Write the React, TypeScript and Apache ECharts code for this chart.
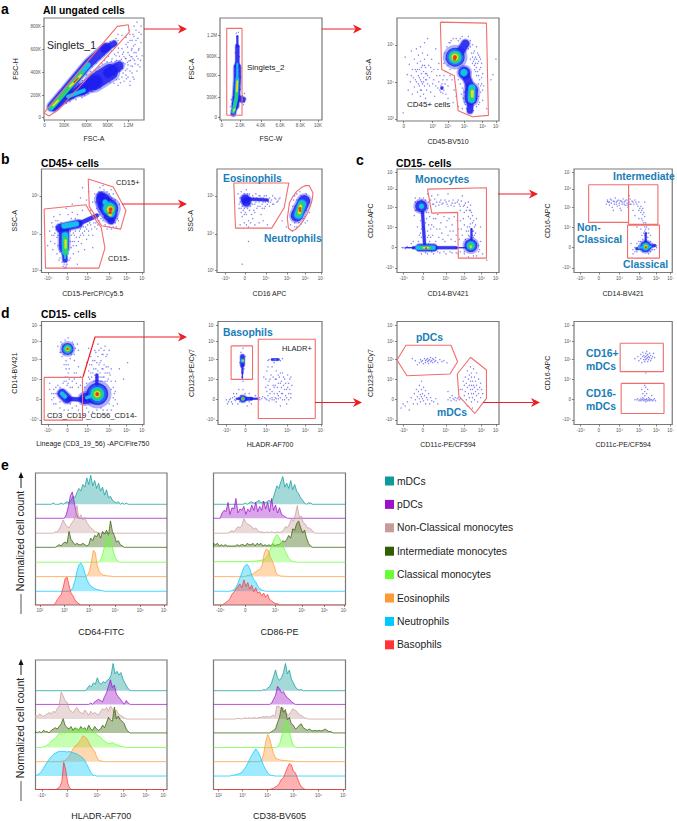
import React, { useEffect, useRef } from "react";
import * as echarts from "echarts";

const FONT = '"Liberation Sans", Arial, sans-serif';
const RED = "#ee1c24";
const GATE = "#f26d6d";
const BLUE_TEXT = "#1a7db8";
const LAYER_COLORS = ["#1b1bf0", "#14bfe8", "#28d468", "#e6e31f", "#ea3a12"];
const LAYER_OPACITY = [0.82, 1, 1, 1, 1];

// ---------- tick labels (positions are on each panel's 0-100 display scale)
const BI_LABELS = ["-10⁴", "0", "10⁴", "10⁵", "10⁶", "10⁷"];
const DEC_LABELS = ["10²", "10³", "10⁴", "10⁵", "10⁶", "10⁷"];
const SSC_LABELS = ["10³", "10⁴", "10⁵"];
const A1X_LABELS = ["0", "300K", "600K", "900K", "1.2M"];
const A1Y_LABELS = ["0", "200K", "400K", "600K", "800K"];
const A2X_LABELS = ["0", "2.0K", "4.0K", "6.0K", "8.0K", "10K"];
const A2Y_LABELS = ["0", "300K", "600K", "900K", "1.2M"];
const A3X_LABELS = ["0", "10³", "10⁴", "10⁵", "10⁶", "10⁷"];
const A1X_POS = [0.4, 20.3, 42.7, 63.7, 84.3];
const A1Y_POS = [2.6, 24.3, 46.9, 69.5, 91.8];
const A2X_POS = [1.6, 19.7, 40, 59, 78.7, 96];
const A2Y_POS = [2.6, 22, 43.6, 62, 83.3];
const A3X_POS = [6.5, 35, 50, 66, 84, 97.4];
const SSC_POS = [2, 37.3, 74];
const B1X_POS = [6.5, 25.4, 45, 66, 83, 98.7];
const B2X_POS = [8.3, 26.5, 46.6, 67, 84, 99];
const C1X_POS = [6.5, 25.3, 48, 65.6, 82.8, 97.4];
const C2X_POS = [6.8, 25.3, 46.4, 66.5, 83.8, 98.4];
const BIY_POS = [4.4, 24.3, 43.9, 63.2, 80.8, 96.4];
const E1X_POS = [3.3, 22, 41, 60.5, 79.6, 98];
const E2X_POS = [5, 24, 47, 67, 84, 99];
const E3X_POS = [5, 24, 47, 67, 84, 97.5];
const E4X_POS = [3.8, 22, 41, 60.6, 79.5, 98.5];

// ---------- flow-cytometry events: sparse dots [x, y], density blobs [x, y, size] and dense ribbons [layer, width, points]
const A1_DOTS = [[52,48],[55,52],[58,55],[61,49],[63,57],[66,54],[68,60],[70,44],[71,57],[72,63],[73,48],[74,66],[75,40],[76,58],[77,52],[78,70],[79,46],[80,62],[80,38],[81,55],[82,74],[83,50],[84,66],[84,42],[85,58],[86,78],[86,34],[87,53],[88,70],[88,46],[89,84],[89,60],[90,40],[91,74],[91,55],[92,66],[92,88],[93,48],[94,80],[94,60],[95,70],[96,52],[97,76],[97,92],[98,63],[90,92],[85,88],[93,96],[62,40],[66,37],[70,36],[74,34],[58,36],[54,33],[48,28],[44,26],[38,22],[32,20],[26,18],[60,64],[56,60],[52,56],[48,52],[74,78],[70,72],[66,77],[72,80],[30,42],[24,35],[18,29],[82,60],[79,56],[76,48],[73,54],[84,54],[87,62],[90,66],[86,48],[78,42],[82,44],
  [60.5,58.5],[64.5,52.5],[67.5,57.5],[69.5,53.5],[72.5,58.5],[75.5,62.5],[77.5,59.5],[79.5,66.5],[81.5,60.5],[83.5,71.5],[85.5,63.5],[87.5,68.5],[89.5,72.5],[72.5,43.5],[75.5,47.5],[78.5,50.5],[81.5,48.5],[83.5,56.5],[86.5,58.5],[88.5,52.5],[90.5,58.5],[92.5,62.5],[94.5,68.5],[96.5,58.5],[78.5,64.5],[74.5,70.5],[70.5,64.5],[67.5,67.5],[64.5,62.5],[61.5,44.5],[68.5,40.5],[72.5,39.5],[76.5,36.5],[82.5,40.5],[56.5,31.5],[50.5,30.5],[44.5,29.5],[40.5,24.5],[35.5,24.5],[29.5,21.5],[22.5,16.5],[14.5,10.5],[46.5,47.5],[42.5,44.5],[38.5,38.5],[34.5,35.5],[74,84],[78,83],[82,81],[86,84],[88,78],[84,76],[92,78],[90,82],[95,86],[97,84],[88,62],[94,54],[89,42],[86,38]];
const A1_BLOBS = [[], [], [], [], []];
const A1_RIBBONS = [
  [0,9,[[8,13],[44,55],[62,71]]],[0,6,[[60,69],[70,75]]],[0,6,[[10,12],[28,25]]],[0,9,[[25,24],[40,31]]],[0,12,[[38,30],[52,38]]],[0,16,[[50,37],[66,47]]],[0,9,[[64,46],[75,53]]],
  [1,5,[[7,12],[44,54]]],[1,3.5,[[24,23],[40,29]]],[2,3.5,[[8,13],[38,46]]],[3,2,[[26,33],[37,44]]],[3,1.5,[[9,14],[14,19]]],[4,1.2,[[30,37],[34,41]]],
];
const A2_DOTS = [[12,5],[11,9],[10,13],[12,16],[11,20],[22,24],[24,18],[25,21],[23,15],[24,26],[20,30],[19,36],[20,42],[19,48],[15,56],[19,62],[15,66],[18.5,72],[15.5,74],[17,82],[16,85],[18,86],[13,20],[14,28],[15,36]];
const A2_BLOBS = [[], [], [], [], []];
const A2_RIBBONS = [
  [0,7,[[15,14],[16,24],[17,40],[17,52]]],[0,4,[[17,52],[17,72]]],[0,2,[[17,72],[17,82]]],[0,5,[[13,6],[15,16]]],[0,6,[[16,22],[22,20]]],
  [1,3.5,[[13,8],[16,22],[17,40]]],[1,2,[[17,40],[17,55]]],[2,2.2,[[13.5,9],[16,20],[17,38]]],[3,1.2,[[13.5,9],[14.5,11]]],[3,1.6,[[16.5,28],[17,38]]],
];
const A3_DOTS = [[8,62],[10,45],[11,30],[12,55],[13,38],[14,68],[15,50],[15,26],[16,42],[17,60],[17,33],[18,18],[18,50],[19,70],[19,38],[20,28],[20,56],[21,44],[21,64],[22,34],[22,50],[23,24],[23,40],[23,58],[23,72],[24,46],[24,30],[25,36],[25,54],[25,66],[26,42],[26,26],[26,48],[27,60],[27,34],[27,76],[28,40],[28,52],[28,22],[29,30],[29,46],[30,64],[30,36],[31,54],[31,16],[32,42],[33,28],[34,60],[35,36],[36,50],[37,24],[38,70],[39,44],[40,32],[41,56],[42,30],[43,34],[43,28],[44,36],[44,31],[45,33],[45,27],[45,40],[46,30],[46,44],[47,36],[48,26],[48,48],[49,40],[50,34],[50,22],[52,44],[54,40],[55,18],[56,30],[58,24],[72,60],[74,56],[76,68],[76,50],[77,62],[78,72],[78,44],[79,56],[80,64],[80,36],[81,50],[82,60],[82,28],[83,42],[84,20],[85,34],[70,70],[72,78],[74,74],[92,40],[94,45],[97,60],[60,14],[64,12],[66,18],[80,16],[88,12],[6,8],[30,80],[52,76],[58,80],
  [48,60],[47,66],[49,72],[50,54],[51,76],[46,56],[52,50],[53,78],[55,80],[60,78],[62,80],[64,82],[70,82],[72,72],[73,66],[74,62],[75,66],[75,58],[76,60],[76,54],[77,56],[77,48],[78,60],[78,52],[79,66],[79,48],[80,58],[80,44],[81,62],[81,40],[82,52],[82,34],[83,56],[83,36],[84,46],[84,30],[60,40],[62,36],[64,32],[63,26],[65,22],[66,28],[67,16],[68,24],[69,30],[78,22],[79,30],[80,24],[81,18],[78,14],[75,10],[77,18],[68,12],[14,44],[19,48],[21,36],[22,42],[24,52],[26,38],[28,46],[30,44],[32,34],[34,48],[27,54],[29,40],[33,52],[18,40],[20,50],[23,30],[24,38],[36,40],[38,34],[41,38],[42,44],[40,50]];
const A3_BLOBS = [
  [[57,62,19],[66,47,12],[44,32,3]],
  [[57,62,13],[65.6,47,7]],
  [[57,62,10]],
  [[56.8,62,6.5]],
  [[56.8,62,3.5],[56.5,60,2.5]],
];
const A3_RIBBONS = [
  [0,8,[[62,67],[67,75]]],[0,8,[[66,47],[70,38],[73,30]]],[0,13,[[73,30],[72.5,22]]],[0,6,[[72,20],[71.5,10]]],
  [1,7,[[73.5,32],[73,21]]],[2,4,[[73.5,30],[73,22]]],[3,2.5,[[73.8,29],[73.8,24]]],
];
const B1_DOTS = [[6,26],[8,40],[9,30],[10,48],[11,22],[12,36],[12,54],[13,28],[14,44],[15,18],[15,34],[16,50],[16,26],[17,12],[17,40],[18,56],[18,20],[19,32],[28,14],[29,24],[29,36],[30,58],[31,18],[32,30],[33,40],[34,26],[35,56],[36,20],[37,34],[38,42],[39,28],[40,60],[41,36],[42,22],[43,44],[44,32],[46,40],[48,46],[50,36],[52,44],[54,42],[56,50],[35,8],[50,24],[26,56],[24,62],[30,66],[38,72],[44,70],[48,60],[50,68],[52,76],[54,62],[56,78],[60,84],[62,54],[68,80],[72,70],[74,60],[75,50],[76,66],[72,48],[66,44],[62,46],[24,7],[23,5],[22,4],[46,78],[40,82],
  [10,36],[11,44],[13,38],[14,50],[15,42],[16,36],[17,46],[18,38],[19,26],[19,48],[20,18],[20,36],[28,30],[28,40],[29,52],[30,30],[31,26],[31,38],[32,36],[33,52],[34,34],[35,44],[36,30],[37,40],[38,36],[39,46],[40,38],[41,44],[42,40],[44,42],[45,46],[46,36],[47,48],[49,42],[51,48],[53,48],[55,46],[57,56],[55,70],[56,66],[54,72],[53,68],[57,82],[61,80],[64,78],[66,76],[70,76],[72,66],[73,56],[74,52],[73,44],[70,44],[68,42],[64,42],[60,50],[58,52],[25,8],[22,8],[24,5],[21,6],[20,10],[27,12],[26,18],[18,14]];
const B1_BLOBS = [
  [[66,62,18],[60,70,14],[63,65,16],[67,55,13],[58,74,8],[68,50,7]],
  [[66,62,12],[68,57,7],[62,68,5]],
  [[67,61,9],[67,57,5]],
  [[67,61,6],[67,56,3]],
  [[67.5,61,3.5],[67,58,3]],
];
const B1_RIBBONS = [
  [0,8,[[18,43],[36,47]]],[0,4,[[36,47],[54,55]]],[0,10,[[22,40],[22,24]]],[0,5,[[22,24],[23,12]]],
  [1,5,[[22,45],[34,47]]],[1,6,[[23,36],[23,20]]],[1,2,[[23,20],[23,14]]],[2,4,[[23,33],[23.5,19]]],[3,2,[[23.5,31],[23.5,24]]],
];
const B2_DOTS = [[20,76],[21,66],[22,72],[23,62],[23,78],[24,54],[25,66],[26,76],[26,48],[27,58],[28,80],[29,62],[30,50],[31,76],[32,64],[33,70],[34,74],[35,60],[36,66],[37,76],[38,72],[39,64],[40,68],[41,74],[42,56],[43,66],[44,72],[45,62],[46,68],[47,74],[48,66],[50,72],[51,68],[53,74],[54,66],[56,71],[58,69],[60,72],[30,44],[34,52],[40,48],[22,46],[62,50],[66,44],[70,46],[72,64],[73,70],[72,40],[86,50],[88,58],[84,48],[76,44],[80,47],[85,76],[88,70],[74,74],[79,78],[76,70],[30,30],[24,8],
  [21,62],[22,68],[23,58],[24,72],[24,64],[25,60],[26,56],[26,62],[28,56],[29,76],[30,66],[31,60],[32,72],[33,56],[34,66],[35,72],[36,58],[37,68],[38,62],[39,70],[40,74],[41,64],[42,72],[43,62],[44,68],[45,74],[46,64],[47,70],[49,68],[50,64],[52,70],[53,66],[55,72],[57,68],[59,71],[28,46],[32,48],[36,46],[44,50],[48,46],[74,48],[71,54],[72,58],[74,64],[76,76],[80,74],[83,62],[85,60],[86,64],[87,72],[84,54],[82,52],[78,48],[74,44]];
const B2_BLOBS = [
  [[27,71,9],[28,68,9]],
  [],
  [],
  [],
  [[79,62,2.5],[79,60,2.5]],
];
const B2_RIBBONS = [
  [0,3,[[30,71],[48,70]]],[0,12,[[76,55],[83,69]]],[1,8,[[77.5,56],[81,66]]],[2,5,[[78,57],[80,65]]],[3,3,[[78.5,58],[79.5,64]]],
];
const C1_DOTS = [[31,68],[33,70],[35,66],[37,71],[39,68],[41,65],[43,70],[45,67],[47,70],[49,66],[51,69],[53,65],[55,70],[57,67],[59,68],[61,66],[63,69],[65,64],[67,67],[69,63],[70,68],[71,60],[72,65],[73,58],[74,55],[70,54],[75,50],[72,47],[76,44],[74,40],[77,38],[71,35],[75,34],[78,52],[66,58],[62,60],[64,74],[50,76],[40,75],[34,74],[32,54],[34,46],[35,36],[36,52],[38,30],[39,42],[40,56],[41,34],[43,48],[44,38],[46,54],[47,30],[48,44],[50,36],[51,52],[53,32],[54,46],[55,40],[56,54],[57,30],[58,36],[60,42],[61,32],[62,50],[64,36],[66,46],[67,32],[68,40],[30,40],[29,52],[31,46],[23,50],[24,42],[22,36],[21,30],[20,44],[19,60],[18,68],[17,55],[16,30],[14,28],[12,24],[10,25],[8,23],[6,24],[5,24],[30,18],[36,18],[42,19],[48,18],[54,19],[60,18],[66,18],[70,15],[75,16],[80,20],[82,30],[84,18],[82,44],[88,12],[22,72],[28,70],[18,72],[30,76],
  [24,70],[26,72],[20,68],[21,62],[18,60],[30,62],[31,58],[29,58],[28,48],[23,38],[24,34],[31,36],[32,30],[33,42],[25,44],[30,34],[31,28],[33,34],[36,44],[38,52],[42,42],[45,32],[49,50],[52,40],[59,50],[63,42],[65,52],[69,44],[70,36],[71,44],[72,52],[73,42],[74,48],[75,40],[76,36],[77,46],[74,36],[70,40],[72,32],[68,30],[76,30],[78,28],[80,26],[81,22],[78,16],[66,20],[62,20],[58,19],[52,20],[46,20],[40,20],[34,20],[28,19],[24,18],[36,66],[42,68],[48,68],[54,67],[60,70],[66,65],[72,60],[38,64],[44,66],[50,64],[56,64],[62,64],[68,60]];
const C1_BLOBS = [
  [[23.7,64,12],[72.4,26,13]],
  [[24,64,5],[72.4,26,8]],
  [[72.4,25.5,5.5]],
  [[72.4,25,2]],
  [[28.5,23.5,1.8]],
];
const C1_RIBBONS = [
  [0,1.2,[[8,24],[18,24]]],[0,3,[[16,24],[22,24]]],[0,7,[[22,24],[36,24]]],[0,3,[[36,24],[58,24]]],[0,1.2,[[58,24],[68,24]]],[0,3,[[25,58],[27,28]]],[0,2,[[73,42],[73,32]]],
  [1,4,[[20,24],[36,24]]],[2,2.5,[[24,24],[33,24]]],[3,1.5,[[26,24],[31,24]]],
];
const C2_DOTS = [[33,66],[34,70],[35,68],[36,65],[37,71],[38,67],[39,63],[40,69],[41,66],[42,72],[43,68],[44,64],[45,70],[46,67],[47,62],[48,69],[49,66],[50,71],[51,68],[52,65],[53,70],[54,67],[55,63],[56,68],[57,71],[58,66],[60,68],[62,70],[64,66],[66,68],[68,64],[70,62],[66,60],[68,58],[70,56],[72,54],[66,52],[70,50],[73,48],[70,46],[74,44],[68,42],[72,40],[76,42],[72,36],[75,34],[70,32],[68,30],[78,36],[62,55],[60,60],[64,44],[80,28],[60,22],[62,24],[64,28],[82,22],[84,26],[58,28],[60,18],[40,60],[48,60],[56,74],[72,68],
  [34,68.5],[36,68],[38,70],[41,68.5],[43,66],[44,69],[46,65],[47,69.5],[49,68],[51,66],[52,69],[54,65],[55,70],[57,66],[59,69],[61,66],[63,68],[65,64],[67,62],[69,60],[71,58],[69,52],[71,48],[72,44],[73,42],[74,38],[71,38],[69,36],[76,38],[74,30],[66,26],[68,22],[70,20],[76,18],[78,20],[80,22],[82,26],[84,24],[62,20],[64,20],[78,30],[72,30],[66,30]];
const C2_BLOBS = [
  [[73,25,11]],
  [[73,25,7]],
  [[73,25,4.5]],
  [[73,25,3]],
  [[73,24.5,1.8]],
];
const C2_RIBBONS = [[0,3,[[64,23],[82,26]]],[0,2,[[73,28],[73,38]]],[1,2,[[66,24],[78,25]]]];
const D1_DOTS = [[16,76],[18,70],[19,80],[20,66],[21,76],[30,80],[32,68],[33,74],[35,78],[36,72],[26,84],[24,62],[28,64],[22,58],[24,54],[26,50],[23,46],[27,44],[21,40],[25,38],[28,36],[30,42],[32,50],[34,40],[36,56],[38,46],[44,60],[46,52],[47,44],[48,66],[49,58],[50,50],[51,42],[52,72],[52,62],[53,54],[54,46],[55,78],[55,66],[56,58],[57,50],[57,42],[58,74],[58,62],[59,54],[60,68],[60,46],[61,58],[62,76],[62,50],[63,66],[64,42],[65,56],[66,72],[67,48],[46,74],[44,40],[42,36],[50,36],[56,38],[62,36],[68,34],[70,26],[72,42],[74,20],[72,32],[76,54],[80,44],[84,60],[66,20],[60,14],[50,12],[40,14],[30,16],[22,14],[14,20],[12,30],[10,24],[14,36],[16,30],[8,40],[18,22],[12,26],[28,20],[34,18],[44,16],
  [19,70],[20,78],[22,68],[23,82],[29,68],[30,74],[31,78],[32,62],[24,58],[26,58],[27,54],[25,46],[24,42],[26,40],[22,42],[30,36],[32,44],[34,50],[36,36],[38,38],[40,42],[46,46],[47,58],[48,50],[49,46],[50,62],[51,54],[52,48],[53,42],[53,70],[54,60],[55,52],[56,46],[56,72],[57,60],[58,46],[59,68],[59,42],[60,54],[61,46],[61,72],[62,42],[63,56],[64,50],[64,68],[65,44],[66,50],[68,42],[68,54],[70,36],[71,30],[72,24],[68,14],[58,16],[54,14],[46,12],[36,14],[26,14],[18,16],[12,20],[10,30],[8,34],[16,38],[12,34],[14,30],[18,36],[64,14],[70,18]];
const D1_BLOBS = [
  [[25.4,73.4,12],[54.4,29.5,22]],
  [[25.4,73.4,8],[54.4,29.5,14]],
  [[25.4,73.4,6],[54.4,29.5,10]],
  [[25.4,73.4,3.5],[54.4,29.5,6]],
  [[25.4,73.4,2],[54.4,29.5,3.5]],
];
const D1_RIBBONS = [
  [0,9,[[20,30],[25,25]]],[0,4,[[25,25],[42,24]]],[0,11,[[42,25],[50,27]]],[0,3,[[54,36],[54,48]]],[1,4,[[20,30],[23,27]]],[1,3,[[44,26],[50,28]]],
];
const D2_DOTS = [[22,70],[26,66],[24,74],[21,60],[25,54],[23,46],[24,42],[22,56],[44,46],[46,36],[47,52],[48,28],[49,42],[50,34],[51,48],[52,24],[52,56],[53,38],[54,30],[55,44],[56,22],[56,52],[57,36],[58,28],[59,46],[60,40],[60,18],[61,30],[62,50],[62,24],[63,38],[64,44],[65,28],[66,34],[66,20],[67,48],[68,30],[68,40],[70,26],[70,46],[45,26],[42,25],[40,24],[47,24],[50,25],[54,24],[58,25],[49,63],[60,62],[62,64],[48,62],[10,22],[12,25],[14,20],[16,27],[17,23],[19,20],[18,30],[20,34],[30,30],[32,20],[36,28],[28,18],[14,26],[8,24],
  [46,44],[47,32],[48,38],[50,30],[50,44],[52,32],[53,46],[54,36],[55,26],[55,38],[56,44],[57,30],[58,40],[58,48],[59,32],[60,26],[61,42],[61,36],[62,30],[63,46],[64,24],[64,34],[65,40],[66,26],[67,36],[68,24],[69,34],[69,44],[70,30],[71,38],[60,50],[48,56],[54,60],[20,26],[21,22],[22,28],[16,24],[15,30],[24,34],[26,30],[28,24],[30,22],[13,22],[11,24],[9,20],[40,26],[43,27],[46,25],[49,23],[52,26],[56,25]];
const D2_BLOBS = [
  [[24,25,7]],
  [[23.5,62,3.5],[24,25,4],[55,63,1.2]],
  [[24,62,2.5],[24,25,3]],
  [[24,62,1.2],[24,25,1.8]],
  [[24,25,1.2]],
];
const D2_RIBBONS = [
  [0,4.5,[[23.5,66],[23.5,58]]],[0,2,[[23.5,58],[23.5,50]]],[0,1.2,[[23.5,50],[23.5,45]]],[0,3.5,[[24,25],[32,25]]],[0,2,[[32,25],[38,25]]],[0,2.5,[[52,63],[58,63]]],[0,2,[[18,25],[24,25]]],
];
const D3_DOTS = [[15,64],[18,62],[20,58],[22,60],[23,63],[24,61],[25,62],[26,59],[27,64],[28,62],[28,60],[29,63],[30,61],[30,64],[31,62],[31,59],[32,63],[33,61],[33,65],[34,62],[35,60],[35,64],[36,63],[37,61],[38,65],[38,62],[40,60],[42,63],[44,61],[46,62],[49,60],[8,18],[10,22],[12,14],[14,26],[16,20],[17,30],[18,24],[19,34],[20,27],[20,20],[21,32],[22,25],[22,38],[23,29],[23,22],[24,27],[24,34],[24,42],[25,25],[25,30],[26,23],[26,36],[27,28],[28,33],[28,20],[29,26],[30,24],[31,30],[32,20],[33,26],[34,23],[36,22],[38,25],[40,20],[50,24],[52,26],[53,23],[54,28],[55,25],[56,24],[57,26],[58,23],[59,25],[60,26],[61,24],[62,25],[50,32],[64,34],[65,42],[66,28],[66,38],[67,46],[67,32],[68,24],[68,40],[69,36],[69,52],[70,30],[70,44],[71,26],[71,38],[71,48],[72,34],[72,42],[72,56],[73,22],[73,30],[73,38],[73,46],[73,50],[74,26],[74,34],[74,42],[75,30],[75,38],[75,54],[76,24],[76,36],[76,46],[77,32],[77,42],[78,28],[78,38],[78,50],[79,22],[79,34],[80,44],[80,30],[81,36],[82,40],[82,26],[83,34],[84,30],[6,20],[4,16],[74,16],[69,18],[62,34]];
const D4_DOTS = [[62,64],[65,66],[66,62],[68,68],[68,64],[69,60],[70,66],[70,70],[71,63],[71,67],[72,65],[72,61],[73,69],[73,66],[73,63],[74,67],[74,64],[74,71],[75,65],[75,61],[75,68],[76,66],[76,63],[77,69],[77,65],[78,62],[78,67],[79,64],[80,66],[81,69],[82,65],[73,50],[62,24],[64,24],[65,25],[66,23],[67,24],[68,25],[68,23],[69,24],[70,24],[70,26],[71,23],[71,25],[72,24],[72,28],[72,32],[73,24],[73,22],[73,36],[74,25],[74,24],[74,30],[75,23],[75,34],[76,24],[76,26],[77,25],[77,23],[78,24],[79,24],[79,28],[80,23],[81,24],[82,25],[83,23],[70,30],[69,34],[72,38]];

// ---------- gates
const A1_GATES = [[[0,7],[5,4],[14.3,9.8],[85.3,86.2],[84.3,93.4],[73.3,91.8],[0,7]]];
const A2_GATES = [[[6.6,4.6],[21.6,4.6],[21.6,89.8],[6.6,89.8],[6.6,4.6]]];
const A3_GATES = [[[42.5,96],[87.7,95],[89.6,5.5],[74,4.2],[60,10],[56.2,44],[43.8,50],[42.5,96]]];
const B1_GATES = [
  [[2.6,61.3],[43.3,65.5],[47.9,57.4],[58.3,43.5],[61.9,23.5],[56,4.2],[3.9,4.2],[2.6,61.3]],
  [[45.6,90.3],[70,82.6],[82.4,60],[77.2,41.9],[58.6,45.2],[46.6,63.9],[45.6,90.3]],
];
const B2_GATES = [
  [[16,86.5],[68.4,86.5],[63.9,62.3],[52.1,42.9],[17.6,42.9],[16,86.5]],
  [[87.9,83.9],[91.4,76.8],[90.6,70],[88.8,63.9],[86,57],[82.4,50.3],[78.5,45],[74.4,41.3],[71,40.3],[68,43],[67,52.6],[69,67.1],[72,73],[76,78.4],[80,81.8],[84,83.9],[87.9,83.9]],
];
const C1_GATES = [[[29.9,80.6],[87.7,81.9],[87.7,13.9],[60.1,13.9],[59.4,58.1],[34.1,57.4],[29.9,80.6]]];
const C2_GATES = [
  [[14.9,84.8],[55.5,84.8],[55.5,48.4],[14.9,48.4],[14.9,84.8]],
  [[55.5,84.8],[85.4,84.8],[85.4,46.5],[55.5,46.5],[55.5,84.8]],
  [[54.5,45.8],[87,45.8],[87,13.9],[54.5,13.9],[54.5,45.8]],
];
const D1_GATES = [[[2.6,45.8],[40,45.8],[40,4.2],[2.6,4.2],[2.6,45.8]]];
const D2_GATES = [
  [[12.6,76.3],[33.2,76.3],[33.2,43.8],[12.6,43.8],[12.6,76.3]],
  [[38.7,82.8],[93.5,82.8],[93.5,5.8],[38.7,5.8],[38.7,82.8]],
];
const D3_GATES = [
  [[0,62.7],[8.8,76.9],[52.9,76.9],[59.4,61],[51.9,49],[9.7,47.4],[0,62.7]],
  [[72.1,65.3],[87.7,52.9],[87.7,25.3],[76.3,10.7],[60.7,27.6],[59.1,49],[72.1,65.3]],
];
const D4_GATES = [
  [[47,78.9],[90.9,78.9],[90.9,51.3],[47,51.3],[47,78.9]],
  [[48,39.9],[91.6,39.9],[91.6,10.7],[48,10.7],[48,39.9]],
];

// ---------- histograms: population names, colours, row baselines, heights per 1.5 unit bin from each start
const POPULATIONS = ["mDCs", "pDCs", "Non-Classical monocytes", "Intermediate monocytes", "Classical monocytes", "Eosinophils", "Neutrophils", "Basophils"];
const POP_COLORS = ["#0f9a9a", "#9b10c9", "#c99a9a", "#2f5f00", "#66ff33", "#ff9933", "#00c8ff", "#ff3333"];
const BASELINES = [76.3, 65.7, 54.4, 43.7, 32.4, 21.5, 10.4, 0];
const BIN = 1.5;

const CD64_STARTS = [13.5, 23.5, 15, 16.5, 49, 39.5, 27, 15];
const CD64_HEIGHTS = [
  [1,0,0,0,1,0,1,2,1,3,6,5,9,12,10,15,13,20,15,22,14,18,12,16,10,13,7,11,5,6,3,2,1,2,0,1,0,1],
  [3,9,17,20,12,4],
  [1,1,3,6,10,7,5,4,7,9,12,21,11,14,10,12,8,6,4,3,1,1],
  [1,2,1,3,4,3,12,6,4,2,3,2,2,3,2,1,2,7,5,9,8,11,7,12,10,13,9,20,12,9,4,5,2,1],
  [1,4,10,17,21,20,14,7,3,1],
  [1,4,11,20,18,8,4,2,1,1,0.5,0.5,0.3],
  [0.5,3,8,15,20,21.5,19,14,9,6,4,3,2,1.5,1,0.7,0.4],
  [1,4,6,8,13,20,21,15,9,7,4,2,1],
];
const CD86_STARTS = [24, 6.5, 12.5, 0, 0, 25, 14, 8];
const CD86_HEIGHTS = [
  [1,0,1,2,1,1,2,3,1,2,1,2,3,2,4,9,14,12,17,21,13,16,12,18,11,15,10,8,5,3,1,0,1,1],
  [4,6,5,12,3,8,7,15,4,7,6,9,3,7,5,10,6,12,5,9,6,13,7,12,5,15,6,10,4,8,3,2,1],
  [1,2,1,3,5,4,6,11,8,7,6,5,3,4,2,1,1,0.5,0.5,1,0.5,1,0.5,0.5,1,0.5,1,2,5,4,7,11,9,14,21,12,13,8,7,4,4,3,1],
  [3,2,3,1,2,1,2,1,1,1,1,1,2,1,2,2,1,3,2,2,3,1,3,2,3,1,2,1,2,1,3,1,2,2,3,5,4,6,9,7,14,13,18,20,15,11,13,7,3,1],
  [0.5,0.5,0.4,0.5,0.4,0.5,0.5,0.5,0.4,0.5,0.5,0.4,0.5,0.5,0.4,0.5,0.5,0.5,0.6,0.7,0.8,0.9,1,1.2,1.5,1.8,2.5,4,7,11,15,19,21,19,16,13,9,6,3,1.5,0.5,0.3],
  [0.5,1,1.5,2,3,4,5,6,9,18,21,20,15,12,8,3,1,0.5,0.4,0.3,0.3],
  [0.5,1,3,6,10,14,18,20,20,17,12,9,7,4,2,1,0.5],
  [1,2,3,5,8,10,12,14,16,13,19,14,17,12,15,10,13,9,10,7,9,6,8,4,3,2,1,1],
];
const HLADR_STARTS = [39.5, 42, 0, 0, 6, 21, 0, 17];
const HLADR_HEIGHTS = [
  [2,4,3,6,5,10,6,5,7,6,8,9,12,21,13,15,12,14,9,6,3,1],
  [1,0,2,3,4,3,2,6,9,14,19,13,15,8,6,4,2,0,3,1],
  [3,2,4,3,2,3,4,5,4,6,5,8,10,21,18,14,13,8,6,5,7,9,6,5,4,7,5,3,6,4,5,4,3,6,8,7,9,6,10,8,5,7,4,3,2,1],
  [1,0,1,0,2,1,1,0,2,3,4,3,5,7,11,6,4,3,5,2,4,3,2,5,3,4,2,6,3,2,5,3,2,3,6,4,8,12,10,9,20,11,13,10,9,7,3,1],
  [0.5,1,2,3,5,6,7,9,11,10,12,11,13,12,14,12,13,15,14,13,15,13,14,12,13,11,12,10,9,8,6,5,4,3,3,4,3,2,2,1,1,0.5],
  [0.5,1,2,4,7,10,12,13,15,17,20,19,18,15,12,10,8,4,1,0.5,0.3],
  [0.5,1,2,3.5,6,8.5,11,13,15,16.5,17.5,18.5,19,19,19,19,18.5,19,18.5,18,17.5,17,16,15,14,12,9,6,3,1,0.5],
  [1,2,6,21,15,5,1],
];
const CD38_STARTS = [38, 44, 18, 44, 49, 36.5, 14, 44];
const CD38_HEIGHTS = [
  [1,0.5,2,3,6,11,16,10,8,10,14,21,13,16,9,6,3,1,0.5,1],
  [1,4,7,14,12,9,10,7,5,4,2,1],
  [0.5,0.5,0,0.5,1,0.5,1,0.5,1,1,0.5,1.5,1,2,1.5,2,1.5,2,3,2,10,10,8,9,5,4,3,5,8,7,6,4,3,2,1,0.5],
  [1,2,3,8,12,20,16,18,10,12,7,6,3,4,6,7,4,3,2,3,2,1.5,2,1.5,2,1.5,2,3,2,1,1],
  [1,4,10,17,21,18,10,4,1],
  [1,6,15,21,18,12,6,3,2,1.5,1,1,0.8,0.7,0.5,0.5,0.3],
  [0.5,0.7,1,1.5,2,3,5,7,10,13,16,18.5,21,19,16,12,8,5,2.5,1,0.5,0.3],
  [0.5,1,2,3,5,8,9,13,17,20,19,14,13,9,5,2,1],
];

type Box = [number, number, number, number];
const EMPTY_BLOBS = [[], [], [], [], []];
const PANELS: any[] = [
  { box: [44,18,100,102], xName: "FSC-A", yName: "FSC-H", xGap: 15, yGap: 25, xp: A1X_POS, xl: A1X_LABELS, yp: A1Y_POS, yl: A1Y_LABELS, dots: A1_DOTS, blobs: A1_BLOBS, ribbons: A1_RIBBONS, gates: A1_GATES },
  { box: [220,18,102,102], xName: "FSC-W", yName: "FSC-A", xGap: 15, yGap: 25, xp: A2X_POS, xl: A2X_LABELS, yp: A2Y_POS, yl: A2Y_LABELS, dots: A2_DOTS, blobs: A2_BLOBS, ribbons: A2_RIBBONS, gates: A2_GATES },
  { box: [397,18,102,103], xName: "CD45-BV510", yName: "SSC-A", xGap: 17, yGap: 25, xp: A3X_POS, xl: A3X_LABELS, yp: SSC_POS, yl: SSC_LABELS, dots: A3_DOTS, blobs: A3_BLOBS, ribbons: A3_RIBBONS, gates: A3_GATES },
  { box: [41.5,169,102.5,103.5], xName: "CD15-PerCP/Cy5.5", yName: "SSC-A", xGap: 17.5, yGap: 24, xp: B1X_POS, xl: BI_LABELS, yp: SSC_POS, yl: SSC_LABELS, dots: B1_DOTS, blobs: B1_BLOBS, ribbons: B1_RIBBONS, gates: B1_GATES },
  { box: [217,169,105,103.5], xName: "CD16 APC", yName: "SSC-A", xGap: 17.5, yGap: 23, xp: B2X_POS, xl: BI_LABELS, yp: SSC_POS, yl: SSC_LABELS, dots: B2_DOTS, blobs: B2_BLOBS, ribbons: B2_RIBBONS, gates: B2_GATES },
  { box: [397,169,102,103.5], xName: "CD14-BV421", yName: "CD16-APC", xGap: 17.5, yGap: 23, xp: C1X_POS, xl: BI_LABELS, yp: BIY_POS, yl: BI_LABELS, dots: C1_DOTS, blobs: C1_BLOBS, ribbons: C1_RIBBONS, gates: C1_GATES },
  { box: [574,169,102,103.5], xName: "CD14-BV421", yName: "CD16-APC", xGap: 17.5, yGap: 23, xp: C2X_POS, xl: BI_LABELS, yp: BIY_POS, yl: BI_LABELS, dots: C2_DOTS, blobs: C2_BLOBS, ribbons: C2_RIBBONS, gates: C2_GATES },
  { box: [41.5,321.5,102.5,103], xName: "Lineage (CD3_19_56) -APC/Fire750", yName: "CD14-BV421", xGap: 15.5, yGap: 24, xp: B1X_POS, xl: BI_LABELS, yp: BIY_POS, yl: BI_LABELS, dots: D1_DOTS, blobs: D1_BLOBS, ribbons: D1_RIBBONS, gates: D1_GATES },
  { box: [218,321.5,104,103], xName: "HLADR-AF700", yName: "CD123-PE/Cy7", xGap: 16, yGap: 23, xp: B2X_POS, xl: BI_LABELS, yp: BIY_POS, yl: BI_LABELS, dots: D2_DOTS, blobs: D2_BLOBS, ribbons: D2_RIBBONS, gates: D2_GATES },
  { box: [397,321.5,102,103], xName: "CD11c-PE/CF594", yName: "CD123-PE/Cy7", xGap: 16, yGap: 23, xp: C1X_POS, xl: BI_LABELS, yp: BIY_POS, yl: BI_LABELS, dots: D3_DOTS, blobs: EMPTY_BLOBS, ribbons: [], gates: D3_GATES },
  { box: [574,321.5,102,103], xName: "CD11c-PE/CF594", yName: "CD16-APC", xGap: 16, yGap: 23, xp: C2X_POS, xl: BI_LABELS, yp: BIY_POS, yl: BI_LABELS, dots: D4_DOTS, blobs: EMPTY_BLOBS, ribbons: [], gates: D4_GATES },
];
const HISTS: any[] = [
  { box: [35.5,473,131.5,132], xName: "CD64-FITC", xp: E1X_POS, xl: DEC_LABELS, starts: CD64_STARTS, heights: CD64_HEIGHTS },
  { box: [213.5,473,132,132], xName: "CD86-PE", xp: E2X_POS, xl: BI_LABELS, starts: CD86_STARTS, heights: CD86_HEIGHTS },
  { box: [35.5,660,131.5,132], xName: "HLADR-AF700", xp: E3X_POS, xl: BI_LABELS, starts: HLADR_STARTS, heights: HLADR_HEIGHTS },
  { box: [213.5,660,132,132], xName: "CD38-BV605", xp: E4X_POS, xl: DEC_LABELS, starts: CD38_STARTS, heights: CD38_HEIGHTS },
];

// ---------- annotation texts: [text, x, y, size, bold, colour]
const TEXTS: any[] = [
  ["a",1,9,14,true,"#000"],["b",1,159,14,true,"#000"],["c",356,160,14,true,"#000"],["d",1,313,14,true,"#000"],["e",1,465,14,true,"#000"],
  ["All ungated cells",43,10,10.3,true,"#000"],["CD45+ cells",41,163,10.3,true,"#000"],["CD15- cells",396,163,10.3,true,"#000"],["CD15- cells",41,314,10.3,true,"#000"],
  ["Singlets_1",47,45,10.5,false,"#222"],["Singlets_2",247,67,8,false,"#222"],["CD45+ cells",407,104,8,false,"#222"],
  ["CD15+",116,182,7.5,false,"#222"],["CD15-",108,258,7.5,false,"#222"],["CD3_CD19_CD56_CD14-",47,415,7.7,false,"#222"],["HLADR+",282,348,7.5,false,"#222"],
  ["Eosinophils",223,178,10.4,true,BLUE_TEXT],["Neutrophils",264,238,10.4,true,BLUE_TEXT],["Monocytes",415,179,10.4,true,BLUE_TEXT],["Intermediate",613,176,10.4,true,BLUE_TEXT],
  ["Non-",577,227,10.4,true,BLUE_TEXT],["Classical",577,239,10.4,true,BLUE_TEXT],["Classical",623,264,10.4,true,BLUE_TEXT],["Basophils",223,332,10.4,true,BLUE_TEXT],
  ["pDCs",416,337,10.4,true,BLUE_TEXT],["mDCs",437,412,10.4,true,BLUE_TEXT],["CD16+",586,353,10.4,true,BLUE_TEXT],["mDCs",586,366,10.4,true,BLUE_TEXT],["CD16-",586,393,10.4,true,BLUE_TEXT],["mDCs",586,406,10.4,true,BLUE_TEXT],
];
// red connecting arrows: polyline points, ending in a head
const ARROWS: number[][][] = [
  [[144,29],[180,29]],[[322,29],[355,29]],[[122,204],[180,204]],[[498,194],[531,194]],
  [[83,377],[95,337],[180,337]],[[315,402.5],[355,402.5]],[[483,402.5],[533,402.5]],
];
const YLABEL_CENTERS = [541, 728];

function axisX(i: number, p: any, fs: number, gap: number) {
  return {
    gridIndex: i, type: "value", min: 0, max: 100, name: p.xName, nameLocation: "middle", nameGap: gap,
    nameTextStyle: { fontSize: fs, color: "#222", fontFamily: FONT },
    axisLine: { show: false }, splitLine: { show: false },
    axisTick: { show: true, customValues: p.xp, length: 2, lineStyle: { color: "#555", width: 0.7 } },
    axisLabel: { show: true, customValues: p.xp, margin: 3, fontSize: 4.5, color: "#555", fontFamily: FONT,
      formatter: (v: number) => p.xl[p.xp.indexOf(v)] ?? "" },
  };
}

function buildOption() {
  const grid: any[] = [], xAxis: any[] = [], yAxis: any[] = [], series: any[] = [];
  const gridOf = (b: Box) => ({ show: true, left: b[0], top: b[1], width: b[2], height: b[3], borderColor: "#7a7a7a", borderWidth: 1.2, backgroundColor: "#fff" });

  PANELS.forEach((p, i) => {
    grid.push(gridOf(p.box));
    xAxis.push(axisX(i, p, 7, p.xGap));
    yAxis.push({
      gridIndex: i, type: "value", min: 0, max: 100, name: p.yName, nameLocation: "middle", nameGap: p.yGap,
      nameTextStyle: { fontSize: 7, color: "#222", fontFamily: FONT },
      axisLine: { show: false }, splitLine: { show: false },
      axisTick: { show: true, customValues: p.yp, length: 2, lineStyle: { color: "#555", width: 0.7 } },
      axisLabel: { show: true, customValues: p.yp, margin: 3, fontSize: 4.5, color: "#555", fontFamily: FONT,
        formatter: (v: number) => p.yl[p.yp.indexOf(v)] ?? "" },
    });
    series.push({ type: "scatter", xAxisIndex: i, yAxisIndex: i, data: p.dots, symbolSize: 1.4, itemStyle: { color: "#3333ee", opacity: 0.6 }, silent: true, z: 2 });
    [0, 1, 2, 3, 4].forEach((k) => {
      const z = 3 + k * 2;
      const layer: number[][] = p.blobs[k];
      if (layer.length) {
        series.push({ type: "scatter", xAxisIndex: i, yAxisIndex: i, data: layer, symbolSize: (v: number[]) => v[2] * 1.3, itemStyle: { color: LAYER_COLORS[k], opacity: 0.35 }, silent: true, z });
        series.push({ type: "scatter", xAxisIndex: i, yAxisIndex: i, data: layer, symbolSize: (v: number[]) => v[2], itemStyle: { color: LAYER_COLORS[k], opacity: LAYER_OPACITY[k] }, silent: true, z: z + 1 });
      }
      p.ribbons.filter((r: any[]) => r[0] === k).forEach((r: any[]) => {
        series.push({ type: "line", xAxisIndex: i, yAxisIndex: i, data: r[2], showSymbol: false, silent: true, z, lineStyle: { color: LAYER_COLORS[k], width: r[1] * 1.3, opacity: 0.35, cap: "round" } });
        series.push({ type: "line", xAxisIndex: i, yAxisIndex: i, data: r[2], showSymbol: false, silent: true, z: z + 1, lineStyle: { color: LAYER_COLORS[k], width: r[1], opacity: LAYER_OPACITY[k], cap: "round" } });
      });
    });
    p.gates.forEach((g: number[][]) => series.push({ type: "line", xAxisIndex: i, yAxisIndex: i, data: g, showSymbol: false, silent: true, clip: false, z: 15, lineStyle: { color: GATE, width: 1.1 } }));
  });

  HISTS.forEach((h, j) => {
    const i = PANELS.length + j;
    grid.push(gridOf(h.box));
    xAxis.push(axisX(i, h, 9, j < 2 ? 22 : 21.5));
    yAxis.push({ gridIndex: i, type: "value", min: 0, max: 100, show: false });
    h.heights.forEach((hs: number[], r: number) => {
      const base = BASELINES[r];
      const pts: number[][] = [[0, base]];
      if (h.starts[r] > 0) pts.push([h.starts[r] - BIN, base]);
      hs.forEach((v, n) => pts.push([h.starts[r] + n * BIN, base + v]));
      pts.push([h.starts[r] + hs.length * BIN, base], [100, base]);
      series.push({
        name: POPULATIONS[r], type: "line", xAxisIndex: i, yAxisIndex: i, data: pts, showSymbol: false, silent: true, z: 3 + r,
        itemStyle: { color: POP_COLORS[r] }, lineStyle: { color: POP_COLORS[r], width: 0.9, opacity: 0.8 },
        areaStyle: { color: POP_COLORS[r], opacity: 0.38, origin: base },
      });
    });
  });

  const graphic: any[] = [];
  TEXTS.forEach(([text, x, y, size, bold, fill]) => graphic.push({
    type: "text", x, y, z: 20, silent: true,
    style: { text, fill, fontSize: size, fontWeight: bold ? "bold" : "normal", fontFamily: FONT, textAlign: "left", textVerticalAlign: "middle" },
  }));
  ARROWS.forEach((pts) => {
    graphic.push({ type: "polyline", z: 19, silent: true, shape: { points: pts }, style: { stroke: RED, lineWidth: 1.2, fill: null } });
    const [ex, ey] = pts[pts.length - 1];
    graphic.push({ type: "polygon", z: 19, silent: true, shape: { points: [[ex - 2, ey - 4.5], [ex + 7, ey], [ex - 2, ey + 4.5], [ex + 0.5, ey]] }, style: { fill: RED } });
  });
  YLABEL_CENTERS.forEach((cy, n) => {
    const axisTop = n === 0 ? 488 : 675;
    graphic.push({ type: "text", x: 20, y: cy, rotation: Math.PI / 2, z: 20, silent: true,
      style: { text: "Normalized cell count", fill: "#222", fontSize: 10.5, fontFamily: FONT, textAlign: "center", textVerticalAlign: "middle" } });
    graphic.push({ type: "line", z: 19, silent: true, shape: { x1: 21, y1: cy + 53, x2: 21, y2: cy + 73 }, style: { stroke: "#555", lineWidth: 1 } });
    graphic.push({ type: "line", z: 19, silent: true, shape: { x1: 21, y1: axisTop - 12, x2: 21, y2: axisTop }, style: { stroke: "#222", lineWidth: 1 } });
    graphic.push({ type: "polygon", z: 19, silent: true, shape: { points: [[21, axisTop - 16], [23.5, axisTop - 10], [18.5, axisTop - 10]] }, style: { fill: "#111" } });
  });

  return {
    animation: false, backgroundColor: "#fff", grid, xAxis, yAxis, series, graphic,
    legend: {
      data: POPULATIONS, orient: "vertical", left: 385, top: 476, icon: "rect", itemWidth: 9, itemHeight: 9, itemGap: 13.4,
      selectedMode: false, textStyle: { fontSize: 10.3, color: "#222", fontFamily: FONT, padding: [0, 0, 0, -2] }, padding: 0,
    },
  };
}

export default function App() {
  const ref = useRef<HTMLDivElement>(null);
  useEffect(() => {
    document.body.style.margin = "0";
    const chart = echarts.init(ref.current!, undefined, { renderer: "svg" });
    chart.setOption(buildOption() as any);
    return () => chart.dispose();
  }, []);
  return <div ref={ref} style={{ width: 677, height: 821 }} />;
}
